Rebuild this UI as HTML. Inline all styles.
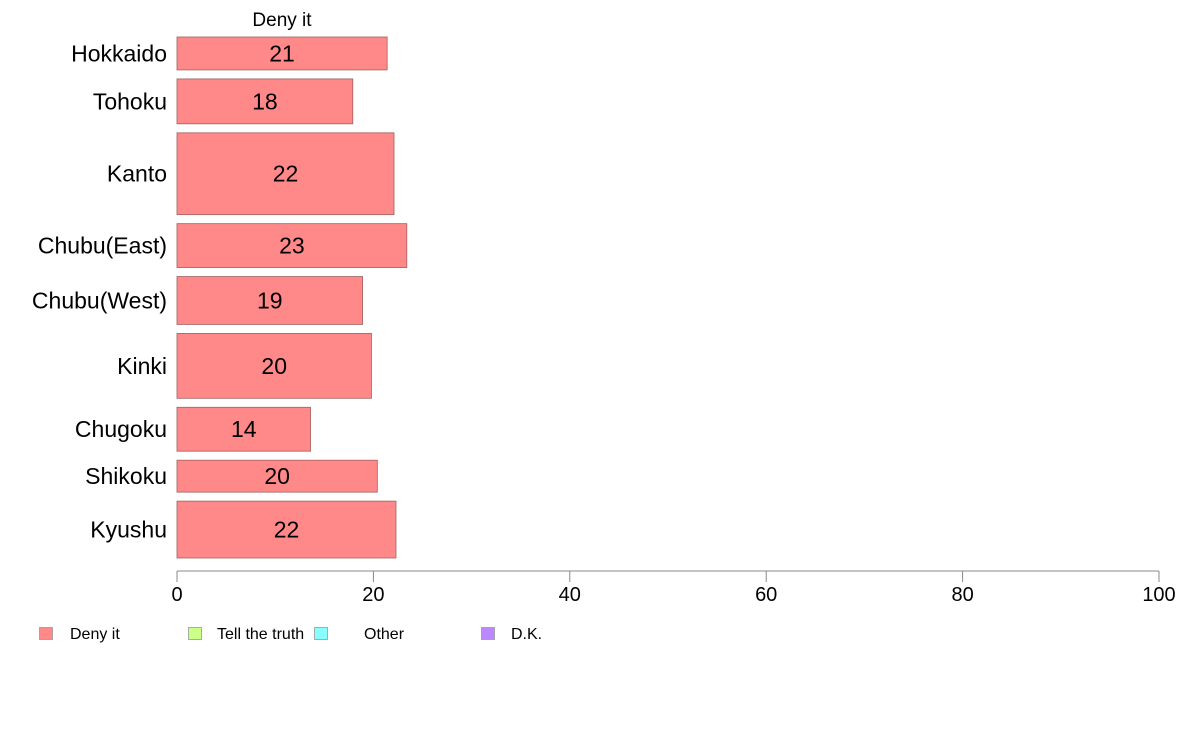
<!DOCTYPE html>
<html><head><meta charset="utf-8"><style>
body{margin:0;background:#fff}
svg{display:block;font-family:"Liberation Sans",Arial,sans-serif}
</style></head><body>
<svg id="c" width="1188" height="736"></svg>
<script>
const categories=["Hokkaido","Tohoku","Kanto","Chubu(East)","Chubu(West)","Kinki","Chugoku","Shikoku","Kyushu"];
const values=[21.4,17.9,22.1,23.4,18.9,19.8,13.6,20.4,22.3];
const labels=["21","18","22","23","19","20","14","20","22"];
const weights=[33,45,82,44,48,65,44,32,57];
const ticks=[0,20,40,60,80,100];
const legendItems=["Deny it","Tell the truth","Other","D.K."];
const legendColors=["#ff8888","#ccff88","#88ffff","#bb88ff"];
const NS="http://www.w3.org/2000/svg";
const svg=document.getElementById('c');
function el(t,a,p){const e=document.createElementNS(NS,t);for(const k in a)e.setAttribute(k,a[k]);(p||svg).appendChild(e);return e;}
const x0=177,x1=1159,topY=37,bottomY=558,gap=9;
const X=v=>x0+(v/100)*(x1-x0);
const wsum=weights.reduce((a,b)=>a+b,0);
const avail=bottomY-topY-gap*(categories.length-1);
const title=el('text',{x:282,y:26,'text-anchor':'middle','font-size':19});
title.textContent="Deny it";


let yy=topY;
categories.forEach((c,i)=>{
  const h=avail*weights[i]/wsum;
  const r=el('rect',{x:x0,y:yy,width:X(values[i])-x0,height:h,fill:'#ff8888',stroke:'#a06060','stroke-width':0.8});
  
  
  const t=el('text',{x:(x0+X(values[i]))/2,y:yy+h/2+8,'text-anchor':'middle','font-size':23});
  t.textContent=labels[i];
  
  
  const l=el('text',{x:167,y:yy+h/2+8,'text-anchor':'end','font-size':23});
  l.textContent=c;
  
  
  yy+=h+gap;
});
const ax=el('line',{x1:x0,x2:x1,y1:571,y2:571,stroke:'#888','stroke-width':1});


ticks.forEach(v=>{
  const tk=el('line',{x1:X(v),x2:X(v),y1:571,y2:582,stroke:'#888','stroke-width':1});
  
  
  const tl=el('text',{x:X(v),y:601,'text-anchor':'middle','font-size':20});
  tl.textContent=v;
  
  
});
const lx=[39,188,314,481],tx=[70,217,364,511];
legendItems.forEach((n,i)=>{
  const s=el('rect',{x:lx[i]+0.5,y:627.5,width:13,height:12,fill:legendColors[i],stroke:'#999','stroke-width':0.8});
  
  
  const t=el('text',{x:tx[i],y:639,'font-size':16});
  t.textContent=n;
  
  
});
</script>
</body></html>
